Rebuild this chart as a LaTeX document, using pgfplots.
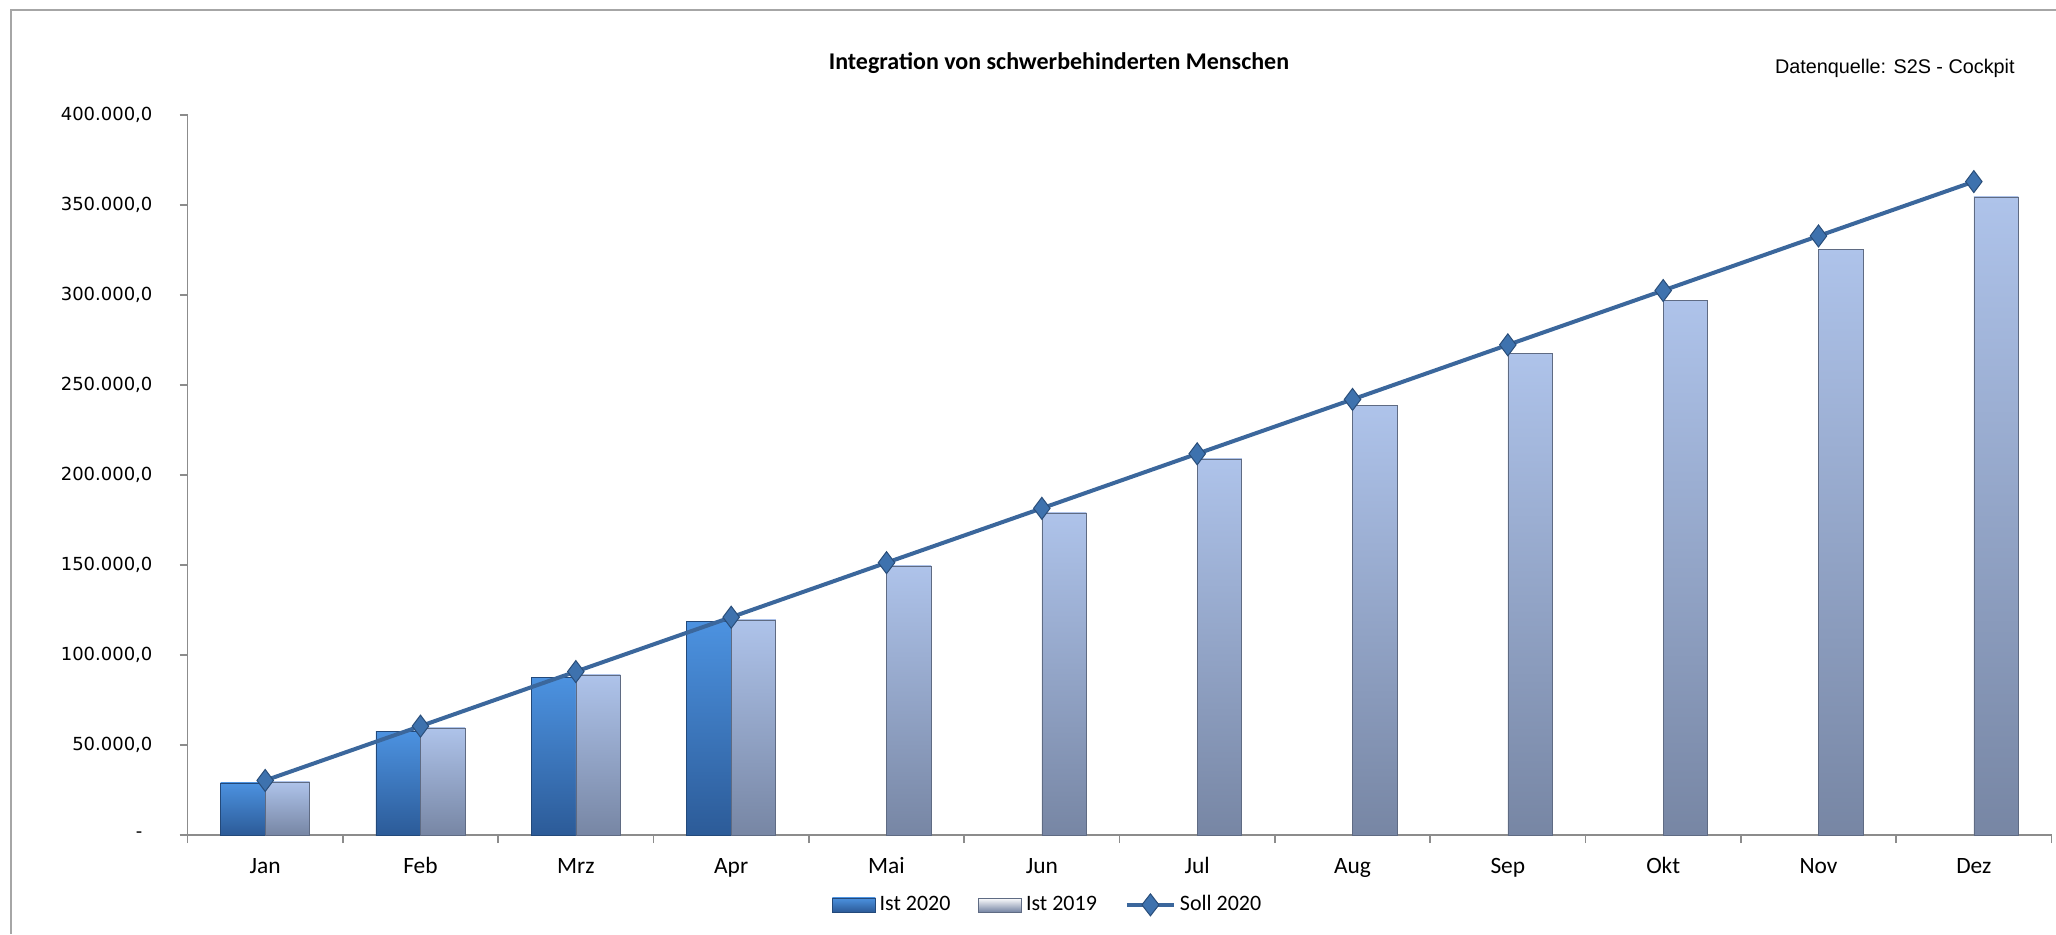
\documentclass[border=0pt]{standalone}
\usepackage{fontspec}
\setmainfont{Carlito}
\newfontfamily\dejavu{DejaVu Sans}
\newfontfamily\arial{Liberation Sans}
\usepackage{pgfplots}
\pgfplotsset{compat=1.18}

\definecolor{istAtop}{HTML}{4C92E0}
\definecolor{istAbot}{HTML}{2C5B98}
\definecolor{istBtop}{HTML}{AEC3EA}
\definecolor{istBbot}{HTML}{7786A4}
\definecolor{sollline}{HTML}{3B679C}
\definecolor{sollmark}{HTML}{3E72AE}
\definecolor{solledge}{HTML}{2A4E7A}
\definecolor{axisgray}{HTML}{8C8C8C}
\definecolor{framegray}{HTML}{A6A6A6}

% one style per series; each bar is its own plot so that it gets its own gradient
\pgfplotsset{
  barA/.style={ybar, bar width=0.287, bar shift=-0.1435, draw=istAbot!80!black, line width=0.3pt,
    top color=istAtop, bottom color=istAbot,
    legend image code/.code={\path[top color=istAtop, bottom color=istAbot, draw=istAbot!80!black] (0pt,-3.5pt) rectangle (21.5pt,3.5pt);}},
  barB/.style={ybar, bar width=0.287, bar shift=0.1435, draw=istBbot!80!black, line width=0.3pt,
    top color=istBtop, bottom color=istBbot,
    legend image code/.code={\path[top color=white, bottom color=istBbot, draw=istBbot!80!black] (0pt,-3.5pt) rectangle (21.5pt,3.5pt);}},
}

\begin{document}
\begin{tikzpicture}
\fill[white] (0,0) rectangle (1028pt,467pt);
\path[use as bounding box] (0,0) rectangle (1028pt,467pt);
\draw[framegray, line width=1pt] (5.25pt,0) -- (5.25pt,461.75pt) -- (1028pt,461.75pt);

\begin{axis}[
  at={(93.75pt,49.5pt)}, anchor=south west,
  scale only axis, width=932pt, height=360pt,
  xmin=-0.5, xmax=11.5, ymin=0, ymax=400000,
  axis x line=bottom, axis y line=left,
  axis line style={-, draw=axisgray, line width=0.8pt},
  tick align=outside, major tick length=4pt,
  tick style={axisgray, line width=0.8pt},
  scaled y ticks=false,
  ytick={0,50000,...,400000},
  yticklabels={-\kern5pt,{50.000,0},{100.000,0},{150.000,0},{200.000,0},{250.000,0},{300.000,0},{350.000,0},{400.000,0}},
  yticklabel style={font=\dejavu\fontsize{9}{10}\selectfont, anchor=east, xshift=-10pt},
  xtick={-0.5,0.5,...,11.5}, xticklabels={},
  extra x ticks={0,...,11},
  extra x tick labels={Jan,Feb,Mrz,Apr,Mai,Jun,Jul,Aug,Sep,Okt,Nov,Dez},
  extra x tick style={major tick length=0pt},
  xticklabel style={font=\fontsize{11.7}{13}\selectfont, anchor=base, yshift=-19pt},
  legend columns=3,
  legend style={draw=none, fill=none, at={(0.462,-0.097)}, anchor=center,
    font=\fontsize{11}{13}\selectfont,
    /tikz/every even column/.append style={column sep=12pt}},
]
% Ist 2020
\addplot[barA] coordinates {(0,29000)};
\addlegendentry{Ist 2020}
\addplot[barA, forget plot] coordinates {(1,57500)};
\addplot[barA, forget plot] coordinates {(2,87500)};
\addplot[barA, forget plot] coordinates {(3,118500)};
% Ist 2019
\addplot[barB] coordinates {(0,29500)};
\addlegendentry{Ist 2019}
\addplot[barB, forget plot] coordinates {(1,59500)};
\addplot[barB, forget plot] coordinates {(2,89000)};
\addplot[barB, forget plot] coordinates {(3,119500)};
\addplot[barB, forget plot] coordinates {(4,149500)};
\addplot[barB, forget plot] coordinates {(5,179000)};
\addplot[barB, forget plot] coordinates {(6,209000)};
\addplot[barB, forget plot] coordinates {(7,238500)};
\addplot[barB, forget plot] coordinates {(8,267500)};
\addplot[barB, forget plot] coordinates {(9,297000)};
\addplot[barB, forget plot] coordinates {(10,325500)};
\addplot[barB, forget plot] coordinates {(11,354500)};
% Soll 2020
\addplot[sharp plot, line width=2pt, color=sollline, mark=diamond*, mark size=5.5pt,
  mark options={fill=sollmark, draw=solledge, line width=0.5pt},
  legend image code/.code={\draw[sollline, line width=2pt] (0pt,0pt) -- (23.5pt,0pt);
    \draw[fill=sollmark, draw=solledge, line width=0.5pt] (11.75pt,5.5pt) -- (16pt,0pt) -- (11.75pt,-5.5pt) -- (7.5pt,0pt) -- cycle;}]
  coordinates {(0,30300) (1,60500) (2,90800) (3,121000) (4,151300) (5,181500)
               (6,211800) (7,242000) (8,272300) (9,302500) (10,332800) (11,363000)};
\addlegendentry{Soll 2020}
\end{axis}

\node[font=\bfseries\fontsize{12}{14}\selectfont] at (529.5pt,435.7pt) {Integration von schwerbehinderten Menschen};
\node[font=\arial\fontsize{9.9}{12}\selectfont, anchor=east, inner sep=0pt] at (1007.5pt,432.8pt) {Datenquelle: S2S - Cockpit};
\end{tikzpicture}
\end{document}
